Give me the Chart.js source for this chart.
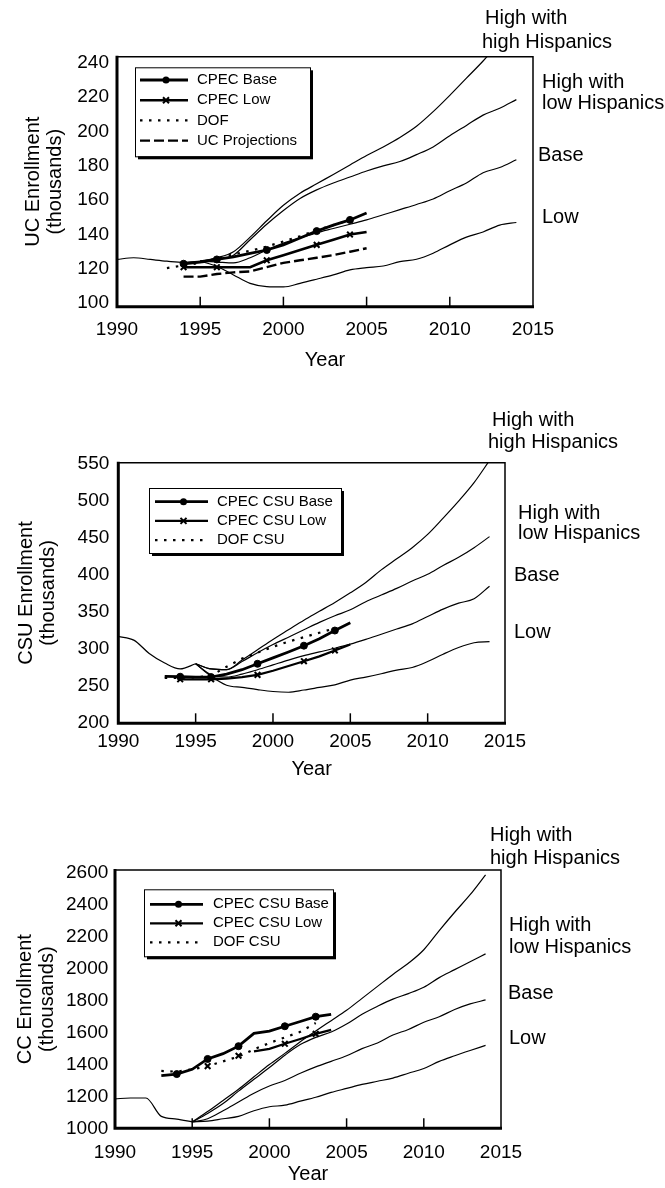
<!DOCTYPE html>
<html>
<head>
<meta charset="utf-8">
<script src="https://cdn.jsdelivr.net/npm/chart.js"></script>
<style>
  html, body { margin: 0; padding: 0; background: #fff; }
  #wrap { position: relative; width: 665px; height: 1188px; overflow: hidden; }
  canvas { position: absolute; left: 0; }
</style>
</head>
<body>
<div id="wrap">
  <canvas id="ucChart" width="665" height="390" style="top:0px"></canvas>
  <canvas id="csuChart" width="665" height="400" style="top:390px"></canvas>
  <canvas id="ccChart" width="665" height="398" style="top:790px"></canvas>
</div>
<script>
// Eixos comuns
const yearTicks = [1990, 1995, 2000, 2005, 2010, 2015];
const histYears = [1990, 1991, 1992, 1993, 1994, 1995];
const projYears = [1995, 1996, 1997, 1998, 1999, 2000, 2001, 2002, 2003, 2004,
  2005, 2006, 2007, 2008, 2009, 2010, 2011, 2012, 2013, 2014];

// ---- UC ----
const ucTicks = [100, 120, 140, 160, 180, 200, 220, 240];
const ucHist = [125.5, 126.5, 125.5, 124.5, 123.8, 124.5];
const ucHighHigh = [124.5, 126.5, 130, 138.5, 148, 157, 164, 169.5, 175, 180.5,
  186, 191, 196.5, 203, 211.5, 221, 231, 241, 252, 263];
const ucHighLow = [124.5, 125.5, 128, 137, 146, 154, 161, 166, 170, 173.5,
  177, 180, 182.5, 186.5, 191, 197.5, 203.5, 209.5, 213.5, 218.5];
const ucBase = [124.5, 124, 123.5, 126.5, 131, 135, 138, 141, 143.5, 146,
  148.5, 151.5, 154.5, 157.5, 160.7, 165.5, 170, 176, 179, 183.5];
const ucLow = [124.5, 121.5, 116.5, 111.6, 109.7, 109.5, 111.6, 114, 116.5, 119.4,
  120.7, 121.7, 124.2, 125.6, 129.1, 134, 138.5, 141.5, 145.5, 147];
const ucCpecYears = [1994, 1995, 1996, 1997, 1998, 1999, 2000, 2001, 2002, 2003, 2004, 2005];
const ucCpecBase = [123, 124, 125.5, 127, 129, 131, 134, 138, 142, 145.5, 148.5, 152.5];
const ucCpecLow = [121, 121, 121, 121, 121, 125, 128, 131, 134, 137, 140, 141.5];
const ucCpecMarks = [1994, 1996, 1999, 2002, 2004];
const ucDofYears = [1993, 1994, 1995, 1996, 1997, 1998, 1999, 2000, 2001, 2002, 2003, 2004];
const ucDof = [120.5, 122, 123.5, 126, 128.5, 130.5, 133, 136, 139, 142.5, 145.5, 148.5];
const ucProjYears = [1994, 1995, 1996, 1997, 1998, 1999, 2000, 2001, 2002, 2003, 2004, 2005];
const ucProj = [115.5, 115.5, 117, 118, 118.5, 121, 123.5, 125, 126.5, 128, 130, 132];

// ---- CSU ----
const csuTicks = [200, 250, 300, 350, 400, 450, 500, 550];
const csuHist = [317, 312, 294, 281, 273, 280];
const csuHighHigh = [280, 273, 272, 285, 299, 313, 326, 339, 351, 363,
  376, 390, 407, 422, 437, 455, 477, 500, 525, 555];
const csuHighLow = [280, 273, 272, 283, 295, 306, 316, 326, 336, 345,
  353, 364, 373, 382, 392, 401, 413, 424, 437, 452];
const csuBase = [280, 265, 262, 266, 272, 278.5, 285, 291, 296, 301,
  306.5, 313, 320, 327, 334, 344, 354, 362, 368, 385];
const csuLow = [280, 263, 251, 248, 245, 242.5, 241.5, 244.5, 248, 251.5,
  258, 262, 266.5, 271.5, 275, 283, 293, 302, 308.5, 310];
const csuBaseYears = [1993, 1994, 1995, 1996, 1997, 1998, 1999, 2000, 2001, 2002, 2003, 2004, 2005];
const csuCpecBase = [263, 262.5, 262, 262, 266, 272, 280, 288, 296, 304.5, 314, 325, 335.5];
const csuLowYears = [1994, 1995, 1996, 1997, 1998, 1999, 2000, 2001, 2002, 2003, 2004, 2005];
const csuCpecLow = [259, 259, 259, 260, 262, 265, 270.5, 277, 283.5, 290, 298, 306];
const csuCpecMarks = [1994, 1996, 1999, 2002, 2004];
const csuDofYears = [1993, 1994, 1995, 1996, 1997, 1998, 1999, 2000, 2001, 2002, 2003, 2004];
const csuDof = [261, 261, 261.5, 264, 276, 287, 295, 303, 310, 316, 322, 328];

// ---- CC ----
const ccTicks = [1000, 1200, 1400, 1600, 1800, 2000, 2200, 2400, 2600];
const ccHist = [1185, 1190, 1190, 1075, 1058, 1040];
const ccHighHigh = [1040, 1105, 1175, 1245, 1323, 1400, 1470, 1543, 1610, 1675,
  1740, 1815, 1890, 1965, 2035, 2120, 2240, 2355, 2465, 2590];
const ccHighLow = [1040, 1093, 1155, 1233, 1307, 1381, 1458, 1525, 1570, 1604,
  1654, 1715, 1765, 1810, 1845, 1885, 1945, 1995, 2045, 2094];
const ccBase = [1040, 1060, 1110, 1165, 1220, 1265, 1300, 1345, 1385, 1420,
  1455, 1500, 1535, 1585, 1620, 1665, 1700, 1745, 1780, 1805];
const ccLow = [1040, 1045, 1060, 1075, 1110, 1135, 1145, 1170, 1195, 1225,
  1250, 1275, 1295, 1315, 1345, 1375, 1420, 1455, 1488, 1520];
const ccBaseYears = [1993, 1994, 1995, 1996, 1997, 1998, 1999, 2000, 2001, 2002, 2003, 2004];
const ccCpecBase = [1330, 1340, 1370, 1435, 1468, 1515, 1595, 1610, 1640, 1670, 1700, 1715];
const ccBaseMarks = [1994, 1996, 1998, 2001, 2003];
const ccLowYears = [1996, 1998, 1999, 2000, 2001, 2002, 2003, 2004];
const ccCpecLow = [1390, 1455, 1482, 1498, 1530, 1560, 1592, 1617];
const ccLowMarks = [1996, 1998, 2001, 2003];
const ccDofYears = [1993, 1994, 1995, 1996, 1997, 1998, 1999, 2000, 2001, 2002, 2003];
const ccDof = [1360, 1355, 1370, 1390, 1420, 1450, 1495, 1535, 1570, 1605, 1660];

const scenarioLabels = ["High with", "high Hispanics", "High with", "low Hispanics", "Base", "Low"];

Chart.defaults.font.family = "'Liberation Sans', Arial, Helvetica, sans-serif";
Chart.defaults.color = '#000';

function pts(xs, ys) {
  return xs.map((x, i) => ({ x: x, y: ys[i] }));
}

function thinLine(xs, ys) {
  return {
    data: pts(xs, ys),
    borderColor: '#000',
    borderWidth: 1.2,
    pointRadius: 0,
    cubicInterpolationMode: 'monotone'
  };
}

function markedLine(label, xs, ys, marks, style, width, hideBefore) {
  return {
    label: label,
    inLegend: true,
    data: pts(xs, ys),
    borderColor: '#000',
    backgroundColor: '#000',
    borderWidth: width,
    pointStyle: style,
    pointRadius: (c) => (c.raw && marks.includes(c.raw.x)) ? (style === 'circle' ? 3.5 : 4) : 0,
    pointBackgroundColor: '#000',
    pointBorderColor: '#000',
    pointBorderWidth: style === 'circle' ? 1 : 2,
    segment: hideBefore ? {
      borderColor: (c) => c.p0.parsed.x < hideBefore ? 'rgba(0,0,0,0)' : undefined
    } : undefined
  };
}

function dashLine(label, xs, ys, dash, width) {
  return {
    label: label,
    inLegend: true,
    data: pts(xs, ys),
    borderColor: '#000',
    borderWidth: width,
    borderDash: dash,
    pointRadius: 0
  };
}

// Moldura do gráfico e marcas internas do eixo x
const framePlugin = {
  id: 'frame',
  afterDatasetsDraw(chart) {
    const { ctx, chartArea: a, scales } = chart;
    ctx.save();
    ctx.strokeStyle = '#000';
    ctx.lineWidth = 1.5;
    ctx.beginPath();
    ctx.moveTo(a.left, a.top);
    ctx.lineTo(a.right, a.top);
    ctx.lineTo(a.right, a.bottom);
    ctx.stroke();
    ctx.lineWidth = 3;
    ctx.beginPath();
    ctx.moveTo(a.left, a.top - 1);
    ctx.lineTo(a.left, a.bottom);
    ctx.lineTo(a.right + 1, a.bottom);
    ctx.stroke();
    ctx.lineWidth = 1.5;
    scales.x.ticks.forEach((t) => {
      if (t.value <= scales.x.min || t.value >= scales.x.max) return;
      const px = scales.x.getPixelForValue(t.value);
      ctx.beginPath();
      ctx.moveTo(px, a.bottom);
      ctx.lineTo(px, a.bottom - 10);
      ctx.stroke();
    });
    ctx.restore();
  }
};

function drawMark(ctx, style, x, y) {
  if (style === 'circle') {
    ctx.beginPath();
    ctx.arc(x, y, 3.5, 0, Math.PI * 2);
    ctx.fill();
  } else if (style === 'crossRot') {
    const r = 3;
    ctx.lineWidth = 2;
    ctx.beginPath();
    ctx.moveTo(x - r, y - r); ctx.lineTo(x + r, y + r);
    ctx.moveTo(x + r, y - r); ctx.lineTo(x - r, y + r);
    ctx.stroke();
  }
}

// Legenda em caixa com sombra
const boxLegendPlugin = {
  id: 'boxLegend',
  afterDraw(chart, args, o) {
    const { ctx, chartArea: a } = chart;
    const bx = a.left + o.dx, by = a.top + o.dy;
    ctx.save();
    ctx.fillStyle = '#000';
    ctx.fillRect(bx + 3, by + 3, o.w, o.h);
    ctx.fillStyle = '#fff';
    ctx.fillRect(bx, by, o.w, o.h);
    ctx.strokeStyle = '#000';
    ctx.lineWidth = 1;
    ctx.strokeRect(bx + 0.5, by + 0.5, o.w, o.h);
    const items = chart.data.datasets.filter((d) => d.inLegend);
    items.forEach((d, i) => {
      const y = by + o.row0 + i * o.gap;
      ctx.fillStyle = '#000';
      ctx.strokeStyle = '#000';
      ctx.setLineDash(d.borderDash || []);
      ctx.lineWidth = d.borderWidth;
      ctx.beginPath();
      ctx.moveTo(bx + o.s0, y);
      ctx.lineTo(bx + o.s1, y);
      ctx.stroke();
      ctx.setLineDash([]);
      if (d.pointStyle) drawMark(ctx, d.pointStyle, bx + (o.s0 + o.s1) / 2 + 2, y);
      ctx.font = "15px 'Liberation Sans', Arial, sans-serif";
      ctx.textBaseline = 'middle';
      ctx.textAlign = 'left';
      ctx.fillText(d.label, bx + o.tx, y);
    });
    ctx.restore();
  }
};

// Rótulos dos cenários à direita
const sideLabelsPlugin = {
  id: 'sideLabels',
  afterDraw(chart, args, o) {
    const ctx = chart.ctx;
    ctx.save();
    ctx.fillStyle = '#000';
    ctx.font = "20px 'Liberation Sans', Arial, sans-serif";
    ctx.textBaseline = 'middle';
    ctx.textAlign = 'left';
    o.pos.forEach((p, i) => ctx.fillText(scenarioLabels[i], p[0], p[1]));
    ctx.restore();
  }
};

function makePanel(id, datasets, yTitle, yTicks, yMin, yMax, L) {
  return new Chart(document.getElementById(id), {
    type: 'line',
    data: { datasets: datasets },
    plugins: [framePlugin, boxLegendPlugin, sideLabelsPlugin],
    options: {
      responsive: false,
      animation: false,
      events: [],
      layout: { autoPadding: false, padding: L.padding },
      scales: {
        x: {
          type: 'linear',
          min: 1990,
          max: 2015,
          afterBuildTicks: (s) => { s.ticks = yearTicks.map((v) => ({ value: v })); },
          afterFit: (s) => { s.height = L.xHeight; },
          grid: { display: false, drawTicks: false },
          border: { display: false },
          ticks: { padding: L.xTickPad, font: { size: 19 }, color: '#000', maxRotation: 0, callback: (v) => String(v) },
          title: { display: true, text: 'Year', font: { size: 20 }, color: '#000', padding: { top: 0, bottom: L.xTitlePad } }
        },
        y: {
          type: 'linear',
          min: yMin,
          max: yMax,
          afterBuildTicks: (s) => { s.ticks = yTicks.map((v) => ({ value: v })); },
          afterFit: (s) => { s.width = L.yWidth; },
          grid: { display: false, drawTicks: false },
          border: { display: false },
          ticks: { padding: L.yTickPad, font: { size: 19 }, color: '#000', callback: (v) => String(v) },
          title: { display: true, text: yTitle, font: { size: 20, lineHeight: 1.1 }, color: '#000', padding: { top: L.yTitlePad, bottom: 0 } }
        }
      },
      plugins: {
        legend: { display: false },
        tooltip: { enabled: false },
        boxLegend: L.legend,
        sideLabels: { pos: L.labels }
      }
    }
  });
}

makePanel('ucChart', [
  markedLine('CPEC Base', ucCpecYears, ucCpecBase, ucCpecMarks, 'circle', 2.8),
  markedLine('CPEC Low', ucCpecYears, ucCpecLow, ucCpecMarks, 'crossRot', 2.6),
  dashLine('DOF', ucDofYears, ucDof, [2.5, 6.5], 2.2),
  dashLine('UC Projections', ucProjYears, ucProj, [10, 4], 2.4),
  thinLine(histYears, ucHist),
  thinLine(projYears, ucHighHigh),
  thinLine(projYears, ucHighLow),
  thinLine(projYears, ucBase),
  thinLine(projYears, ucLow)
], ['UC Enrollment', '(thousands)'], ucTicks, 98, 243.5, {
  padding: { top: 56.7, right: 132, bottom: 13.3, left: 0 },
  xHeight: 70, yWidth: 117, xTickPad: 12, xTitlePad: 4, yTickPad: 8, yTitlePad: 22,
  legend: { dx: 18, dy: 10.6, w: 175, h: 89, row0: 12.7, gap: 20.2, s0: 5, s1: 53, tx: 62 },
  labels: [[485, 18], [482, 42], [542, 82], [542, 103], [538, 155], [542, 217]]
});

makePanel('csuChart', [
  markedLine('CPEC CSU Base', csuBaseYears, csuCpecBase, csuCpecMarks, 'circle', 2.8),
  markedLine('CPEC CSU Low', csuLowYears, csuCpecLow, csuCpecMarks, 'crossRot', 2.2),
  dashLine('DOF CSU', csuDofYears, csuDof, [2.5, 6.5], 2.2),
  thinLine(histYears, csuHist),
  thinLine(projYears, csuHighHigh),
  thinLine(projYears, csuHighLow),
  thinLine(projYears, csuBase),
  thinLine(projYears, csuLow)
], ['CSU Enrollment', '(thousands)'], csuTicks, 199.5, 552, {
  padding: { top: 72.7, right: 160, bottom: 0.7, left: 0 },
  xHeight: 66, yWidth: 118.3, xTickPad: 7, xTitlePad: 8.3, yTickPad: 9, yTitlePad: 15.7,
  legend: { dx: 30.7, dy: 25.3, w: 192, h: 65, row0: 13.7, gap: 19.2, s0: 6, s1: 59, tx: 68 },
  labels: [[492, 30], [488, 52], [518, 123], [518, 143], [514, 185], [514, 242]]
});

makePanel('ccChart', [
  markedLine('CPEC CSU Base', ccBaseYears, ccCpecBase, ccBaseMarks, 'circle', 2.8),
  markedLine('CPEC CSU Low', ccLowYears, ccCpecLow, ccLowMarks, 'crossRot', 2.2, 1999),
  dashLine('DOF CSU', ccDofYears, ccDof, [2.5, 6.5], 2.2),
  thinLine(histYears, ccHist),
  thinLine(projYears, ccHighHigh),
  thinLine(projYears, ccHighLow),
  thinLine(projYears, ccBase),
  thinLine(projYears, ccLow)
], ['CC Enrollment', '(thousands)'], ccTicks, 1000, 2620, {
  padding: { top: 80, right: 164, bottom: 1.7, left: 0 },
  xHeight: 58, yWidth: 115, xTickPad: 13, xTitlePad: 0.3, yTickPad: 6.7, yTitlePad: 14,
  legend: { dx: 29, dy: 19.3, w: 189, h: 67, row0: 15, gap: 19, s0: 6, s1: 59, tx: 69 },
  labels: [[490, 45], [490, 68], [509, 135], [509, 157], [508, 203], [509, 248]]
});
</script>
</body>
</html>
